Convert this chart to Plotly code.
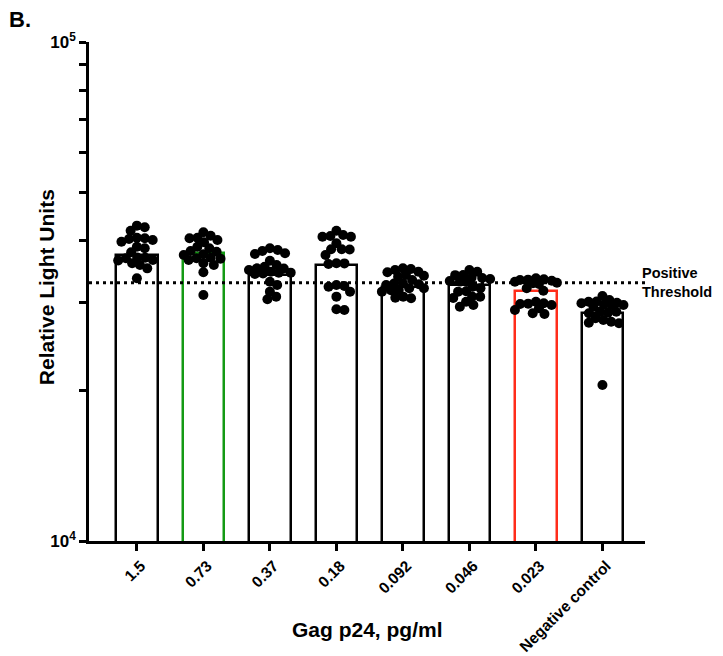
import math
import plotly.graph_objects as go

# ---------------- data ----------------
categories = ["1.5", "0.73", "0.37", "0.18", "0.092", "0.046", "0.023", "Negative control"]

bar_heights = [37410, 37720, 34120, 35730, 32280, 32600, 31740, 28600]

g_1_5 = [42850, 42530, 41870, 40290, 40420, 40530, 40110, 39790, 38890, 38600,
         37900, 36570, 36860, 36960, 37000, 36500, 35730, 35190, 36020, 33610]
g_0_73 = [41550, 39690, 40420, 40110, 40530, 40910, 38130, 38890, 38600, 37420,
          37540, 36570, 36860, 36960, 36800, 36020, 35730, 34550, 31120, 38000]
g_0_37 = [37730, 38600, 38130, 38300, 37600, 36450, 35730, 34920, 35190, 35450,
          35150, 34640, 34480, 34280, 34380, 34500, 32580, 33090, 31600, 30510, 30880]
g_0_18 = [40720, 40850, 40700, 41040, 41870, 39500, 38420, 38420, 38400, 37420,
          35900, 36020, 36000, 32580, 32330, 32430, 31600, 30880, 29030, 29130]
g_0_092 = [34550, 34640, 35080, 34920, 35190, 33860, 34010, 34120, 33340, 32690,
           32840, 32800, 32580, 32090, 31840, 31800, 31600, 32100, 30880, 30730, 30650]
g_0_046 = [33700, 33650, 34120, 34640, 34920, 34100, 33090, 33190, 33100, 33500,
           32330, 32090, 31600, 31650, 30880, 30900, 30170, 29710, 29480, 30690]
g_0_023 = [32930, 33450, 33610, 32090, 32840, 31740, 33090, 33340, 33400, 32730,
           33240, 30170, 29950, 29710, 29900, 29850, 29030, 29270, 28500, 28600]
g_neg = [30410, 30970, 29950, 29710, 30170, 30200, 30030, 29700, 29480, 29750,
         28800, 28600, 28670, 28800, 27940, 27510, 27310, 27380, 27720, 20540]

groups = [g_1_5, g_0_73, g_0_37, g_0_18, g_0_092, g_0_046, g_0_023, g_neg]

threshold = 32940

y_tick_vals = [1e4, 1e5]
y_tick_text = ["<b>10<sup>4</sup></b>", "<b>10<sup>5</sup></b>"]
y_minor_vals = [2e4, 3e4, 4e4, 5e4, 6e4, 7e4, 8e4, 9e4]

# ---------------- styling ----------------
FONT = "Liberation Sans, Arial, Helvetica, sans-serif"
edge_colors = ["black", "#149a14", "black", "black", "black", "black", "#ff2d1a", "black"]

# page body has an 8px margin, so the figure is sized/offset to compensate
FIG_W, FIG_H = 715, 648
M_L, M_R, M_T, M_B = 81, 78, 34, 115

X_RANGE = [-0.72, 7.64]
PLOT_W = FIG_W - M_L - M_R
PLOT_H = FIG_H - M_T - M_B
PX_PER_CAT = PLOT_W / (X_RANGE[1] - X_RANGE[0])
PX_PER_DECADE = PLOT_H / 1.0
DOT = 10


def swarm(vals, d=8.0, maxpx=21.0):
    """Deterministic beeswarm offsets (in category units), limited in width."""
    ys = [math.log10(v) * PX_PER_DECADE for v in vals]
    order = sorted(range(len(vals)), key=lambda i: -ys[i])
    placed = []
    xs = [0.0] * len(vals)
    for i in order:
        y = ys[i]
        cands = [0.0]
        for (xj, yj) in placed:
            dy = y - yj
            if abs(dy) < d:
                dx = math.sqrt(d * d - dy * dy)
                cands += [xj + dx, xj - dx]
        step = -maxpx
        while step <= maxpx:
            cands.append(step)
            step += 3.0
        cands = [c for c in cands if abs(c) <= maxpx]
        cands.sort(key=abs)

        def mind(c):
            if not placed:
                return 1e9
            return min(math.hypot(c - xj, y - yj) for xj, yj in placed)

        chosen = None
        for c in cands:
            if mind(c) >= d - 1e-6:
                chosen = c
                break
        if chosen is None:
            chosen = max(cands, key=mind)
        xs[i] = chosen
        placed.append((chosen, y))
    return [x / PX_PER_CAT for x in xs]


fig = go.Figure()

# bars
fig.add_trace(go.Bar(
    x=list(range(len(categories))),
    y=bar_heights,
    width=0.62,
    marker=dict(color="white", line=dict(color=edge_colors, width=2.5)),
    showlegend=False,
    hoverinfo="skip",
))

# threshold line
fig.add_trace(go.Scatter(
    x=X_RANGE, y=[threshold, threshold],
    mode="lines",
    line=dict(color="black", width=3, dash="3px,4px"),
    showlegend=False, hoverinfo="skip", cliponaxis=False,
))

# points
for i, vals in enumerate(groups):
    offs = swarm(vals)
    fig.add_trace(go.Scatter(
        x=[i + o for o in offs], y=vals,
        mode="markers",
        marker=dict(color="black", size=DOT, line=dict(width=0)),
        showlegend=False, cliponaxis=False,
    ))

fig.update_layout(
    width=FIG_W, height=FIG_H,
    margin=dict(l=M_L, r=M_R, t=M_T, b=M_B, autoexpand=False),
    paper_bgcolor="white", plot_bgcolor="white",
    font=dict(family=FONT, color="black"),
    bargap=0,
)

fig.update_xaxes(
    range=X_RANGE,
    tickmode="array",
    tickvals=list(range(len(categories))),
    ticktext=["<b>%s</b>" % c for c in categories],
    tickangle=-45,
    tickfont=dict(size=15.5, family=FONT, color="black"),
    ticklabelshift=4,
    ticklabelstandoff=0,
    ticks="outside", ticklen=7, tickwidth=2.5, tickcolor="black",
    showline=True, linecolor="black", linewidth=2.5,
    showgrid=False, zeroline=False,
    automargin=False,
)

fig.update_yaxes(
    type="log",
    range=[4, 5],
    tickmode="array",
    tickvals=y_tick_vals,
    ticktext=y_tick_text,
    tickfont=dict(size=17, family=FONT, color="black"),
    ticks="outside", ticklen=7, tickwidth=2.5, tickcolor="black",
    minor=dict(tickmode="array", tickvals=y_minor_vals, ticks="outside",
               ticklen=7, tickwidth=2.5, tickcolor="black", showgrid=False),
    showline=True, linecolor="black", linewidth=2.5,
    showgrid=False, zeroline=False,
    automargin=False,
)

annotations = [
    dict(text="<b>Gag p24, pg/ml</b>", xref="paper", yref="paper",
         x=0.5, y=-0.178, xanchor="center", yanchor="middle",
         showarrow=False, font=dict(size=21, family=FONT)),
    dict(text="<b>Relative Light Units</b>", xref="paper", yref="paper",
         x=-0.077, y=0.509, xanchor="center", yanchor="middle", textangle=-90,
         showarrow=False, font=dict(size=21, family=FONT)),
    dict(text="<b>B.</b>", xref="paper", yref="paper",
         x=-0.147, y=1.046, xanchor="left", yanchor="middle",
         showarrow=False, font=dict(size=22, family=FONT)),
    dict(text="<b>Positive<br>Threshold</b>", xref="paper", yref="y",
         x=0.993, y=math.log10(threshold), xanchor="left", yanchor="middle", align="left",
         showarrow=False, borderpad=0, font=dict(size=14.5, family=FONT)),
]
fig.update_layout(annotations=annotations)

fig.write_html("out.html")
